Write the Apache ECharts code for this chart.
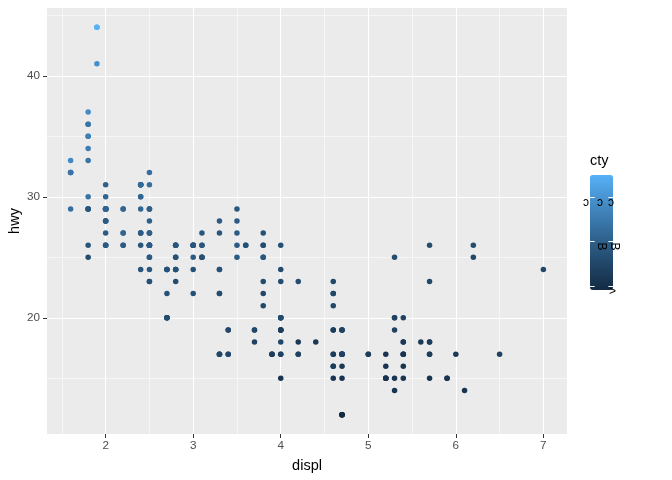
<!DOCTYPE html>
<html><head><meta charset="utf-8">
<script src="https://cdn.jsdelivr.net/npm/echarts@6/dist/echarts.min.js"></script>
<style>html,body{margin:0;padding:0;background:#fff}#c{width:672px;height:480px}</style>
</head><body><div id="c"></div>
<script>
const displ=[1.8,1.8,2.0,2.0,2.8,2.8,3.1,
1.8,1.8,2.0,2.0,2.8,2.8,3.1,3.1,
2.8,3.1,4.2,
5.3,5.3,5.3,5.7,6.0,
5.7,5.7,6.2,6.2,7.0,
5.3,5.3,5.7,6.5,
2.4,2.4,3.1,3.5,3.6,
2.4,3.0,3.3,3.3,3.3,3.3,3.3,3.8,3.8,3.8,4.0,
3.7,3.7,3.9,3.9,4.7,4.7,4.7,5.2,5.2,
3.9,4.7,4.7,4.7,5.2,5.2,5.9,
4.7,4.7,4.7,4.7,4.7,4.7,5.2,5.2,5.7,5.9,
4.6,5.4,5.4,
4.0,4.0,4.0,4.0,4.6,5.0,
4.2,4.2,4.6,4.6,4.6,5.4,5.4,
3.8,3.8,4.0,4.0,4.6,4.6,4.6,4.6,5.4,
1.6,1.6,1.6,1.6,1.6,1.8,1.8,1.8,2.0,
2.4,2.4,2.4,2.4,2.5,2.5,3.3,
2.0,2.0,2.0,2.0,2.7,2.7,2.7,
3.0,3.7,4.0,4.7,4.7,4.7,5.7,6.1,
4.0,4.2,4.4,4.6,
5.4,5.4,5.4,
4.0,4.0,4.6,5.0,
2.4,2.4,2.5,2.5,3.5,3.5,
3.0,3.0,3.5,
3.3,3.3,4.0,5.6,
3.1,3.8,3.8,3.8,5.3,
2.5,2.5,2.5,2.5,2.5,2.5,
2.2,2.2,2.5,2.5,2.5,2.5,2.5,2.5,
2.7,2.7,3.4,3.4,4.0,4.7,
2.2,2.2,2.4,2.4,3.0,3.0,3.5,
2.2,2.2,2.4,2.4,3.0,3.0,3.3,
1.8,1.8,1.8,1.8,1.8,
4.7,5.7,
2.7,2.7,2.7,3.4,3.4,4.0,4.0,
2.0,2.0,2.0,2.0,2.8,
1.9,2.0,2.0,2.0,2.0,2.5,2.5,2.8,2.8,
1.9,1.9,2.0,2.0,2.5,2.5,
1.8,1.8,2.0,2.0,2.8,2.8,3.6];
const hwy=[29,29,31,30,26,26,27,
26,25,28,27,25,25,25,25,
24,25,23,
20,15,20,17,17,
26,23,26,25,24,
19,14,15,17,
27,30,26,29,26,
24,24,22,22,24,24,17,22,21,23,23,
19,18,17,17,19,19,12,17,15,
17,17,12,17,16,15,15,
16,12,17,17,12,17,15,15,17,15,
17,17,18,
17,19,19,19,19,17,
17,17,16,16,17,15,17,
26,25,26,24,21,22,23,22,20,
33,32,32,29,32,34,36,36,29,
26,27,30,31,26,26,28,
26,29,28,28,24,24,24,
22,19,20,17,12,19,18,14,
15,18,18,15,
17,16,18,
17,19,19,17,
29,27,31,32,27,26,
26,25,25,
17,17,20,18,
26,26,27,25,25,
25,24,27,25,26,23,
26,26,26,26,27,23,27,26,
20,20,19,17,20,17,
29,27,31,31,26,26,28,
27,29,31,31,26,26,27,
30,33,35,37,35,
15,18,
20,20,22,17,19,18,20,
29,29,29,29,24,
44,29,26,29,29,29,29,23,24,
44,41,29,26,28,29,
29,29,28,29,26,26,26];
const cty=[18,21,20,21,16,18,18,
18,16,20,19,15,17,17,15,
15,17,16,
14,11,14,13,12,
16,15,16,15,15,
14,11,11,14,
19,22,18,18,17,
18,17,16,16,17,17,11,15,15,16,16,
15,14,13,14,14,14,9,11,11,
13,13,9,13,11,11,11,
12,9,13,13,9,13,11,11,13,11,
11,11,12,
14,13,13,13,13,13,
14,14,13,13,13,11,13,
18,18,17,16,15,15,15,15,14,
28,24,25,23,24,26,25,24,21,
18,21,21,21,18,18,19,
19,19,20,20,17,16,17,
17,15,15,14,9,14,13,11,
11,12,12,11,
11,11,12,
14,13,13,13,
21,19,23,23,19,19,
18,19,19,
14,15,14,12,
18,16,17,18,16,
18,18,20,19,20,18,
21,19,19,19,20,17,20,19,
15,16,15,15,16,14,
21,21,21,21,18,18,19,
21,21,21,22,18,18,18,
24,24,26,28,26,
11,13,
15,16,17,15,15,15,16,
21,19,21,22,17,
33,21,19,22,21,21,21,16,17,
35,29,21,19,20,20,
21,18,19,21,16,18,17];
const xTicks=[2,3,4,5,6,7];
const yTicks=[20,30,40];
const xMinor=[1.5,2.5,3.5,4.5,5.5,6.5];
const yMinor=[15,25,35,45];
const legendBreaks=[30,20,10];
const legendLabels=[['ɔ','ɔ','ɔ'],['B','B'],['>']];
const gradientColors=['#132B43','#22496C','#336A98','#448CC6','#56B1F7'];

const dmin=Math.min(...displ), dmax=Math.max(...displ);
const hmin=Math.min(...hwy), hmax=Math.max(...hwy);
const cmin=Math.min(...cty), cmax=Math.max(...cty);
const xMin=dmin-0.05*(dmax-dmin), xMax=dmax+0.05*(dmax-dmin);
const yMin=hmin-0.05*(hmax-hmin), yMax=hmax+0.05*(hmax-hmin);

const FONT='Liberation Sans, Arial, sans-serif';
const points=displ.map((d,i)=>[d,hwy[i],cty[i]]);

const gridLines=[].concat(
  xMinor.map(v=>({xAxis:v,lineStyle:{width:0.55}})),
  yMinor.map(v=>({yAxis:v,lineStyle:{width:0.55}})),
  xTicks.map(v=>({xAxis:v,lineStyle:{width:1.1}})),
  yTicks.map(v=>({yAxis:v,lineStyle:{width:1.1}}))
);

// legend geometry (style only)
const barLeft=590, barTop=175, barW=23, barH=115;
const graphics=[{type:'text',left:590,top:153,style:{text:'cty',font:'14.5px '+FONT,fill:'#000'}}];
const labelX=[[583,597,608],[596,609],[609]];
legendBreaks.forEach((b,k)=>{
  const y=Math.round(barTop+(cmax-b)/(cmax-cmin)*barH)+0.5;
  graphics.push({type:'line',z:100,shape:{x1:barLeft,y1:y,x2:barLeft+4.6,y2:y},style:{stroke:'#fff',lineWidth:1}});
  graphics.push({type:'line',z:100,shape:{x1:barLeft+barW-4.6,y1:y,x2:barLeft+barW,y2:y},style:{stroke:'#fff',lineWidth:1}});
  legendLabels[k].forEach((t,j)=>{
    const isB=t==='B';
    graphics.push({type:'text',z:101,x:labelX[k][j]+(isB?5:0),y:y+5,rotation:isB?-Math.PI/2:0,
      style:{text:t,font:'12px '+FONT,fill:'#000',align:isB?'center':'left',verticalAlign:'middle'}});
  });
});

const chart=echarts.init(document.getElementById('c'),null,{renderer:'canvas'});
chart.setOption({
  animation:false,
  backgroundColor:'#fff',
  grid:{left:47,right:105,top:8,bottom:46,show:true,backgroundColor:'#EBEBEB',borderWidth:0,outerBoundsMode:'none',containLabel:false},
  xAxis:{type:'value',min:xMin,max:xMax,
    name:'displ',nameLocation:'middle',nameGap:24,nameMoveOverlap:false,nameTextStyle:{color:'#000',fontSize:14.5,fontFamily:FONT},
    axisLine:{show:false},
    axisTick:{show:true,length:4,lineStyle:{color:'#333',width:1},customValues:xTicks},
    axisLabel:{color:'#4D4D4D',fontSize:11.7,fontFamily:FONT,margin:6,customValues:xTicks},
    splitLine:{show:false}},
  yAxis:{type:'value',min:yMin,max:yMax,
    name:'hwy',nameLocation:'middle',nameGap:25,nameMoveOverlap:false,nameRotate:90,nameTextStyle:{color:'#000',fontSize:14.5,fontFamily:FONT},
    axisLine:{show:false},
    axisTick:{show:true,length:4,lineStyle:{color:'#333',width:1},customValues:yTicks},
    axisLabel:{color:'#4D4D4D',fontSize:11.7,fontFamily:FONT,margin:7,customValues:yTicks},
    splitLine:{show:false}},
  visualMap:{type:'continuous',min:cmin,max:cmax,dimension:2,seriesIndex:1,
    left:barLeft,top:barTop,itemWidth:barW,itemHeight:barH,padding:0,text:['',''],textGap:0,
    calculable:false,hoverLink:false,inRange:{color:gradientColors}},
  graphic:graphics,
  series:[
    {type:'scatter',data:[],z:1,silent:true,
      markLine:{silent:true,z:1,zlevel:0,symbol:['none','none'],label:{show:false},animation:false,
        lineStyle:{color:'#fff',type:'solid'},emphasis:{disabled:true},data:gridLines}},
    {type:'scatter',data:points,z:3,symbolSize:5.5,itemStyle:{opacity:1,borderWidth:0},silent:true}
  ]
});
</script></body></html>
